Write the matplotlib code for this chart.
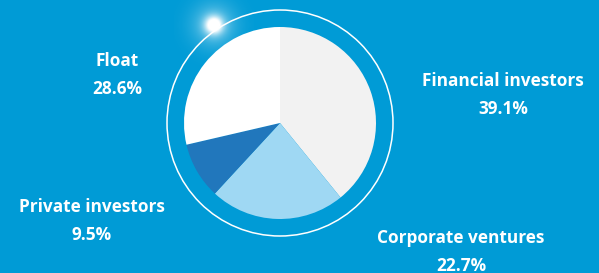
import numpy as np
import matplotlib.pyplot as plt

labels = ['Financial investors', 'Corporate ventures', 'Private investors', 'Float']
shares = [39.1, 22.7, 9.5, 28.6]
colors = ['#F2F2F2', '#9FD8F3', '#2177BC', '#FFFFFF']
# label centres in pixels (x, y from top)
label_pos = [(503, 95), (461, 252), (92, 221), (117, 75)]

bg = '#009BD6'
W, H = 599, 273

fig = plt.figure(figsize=(W / 100, H / 100), dpi=100, facecolor=bg)
ax = fig.add_axes([0, 0, 1, 1])
ax.set_facecolor(bg)

cx, cy = 280, H - 123
ax.pie(shares, colors=colors, startangle=90, counterclock=False,
       center=(cx, cy), radius=96, frame=True,
       wedgeprops=dict(edgecolor='none'))

ring = plt.Circle((cx, cy), 113, fill=False, color='white', lw=1.1)
ax.add_patch(ring)

# glow on the ring
gx, gy = 214, H - 25
yy, xx = np.mgrid[-40:41, -40:41]
d = np.hypot(xx, yy)
alpha = np.clip(np.exp(-(d / 9.0) ** 2) + np.exp(-(d / 22.0) ** 2) * 0.4, 0, 1)
img = np.ones((81, 81, 4))
img[..., 3] = alpha
ax.imshow(img, extent=(gx - 40, gx + 40, gy - 40, gy + 40), zorder=5, interpolation='bilinear')

for name, val, (x, y) in zip(labels, shares, label_pos):
    ax.text(x, H - y, f'{name}\n{val:.1f}%', ha='center', va='center',
            color='white', fontsize=12.4, fontweight='bold', family='Open Sans',
            linespacing=1.75)

ax.set_xlim(0, W)
ax.set_ylim(0, H)
ax.set_aspect('equal')
ax.axis('off')
fig.savefig('out.png', dpi=100, facecolor=bg)
